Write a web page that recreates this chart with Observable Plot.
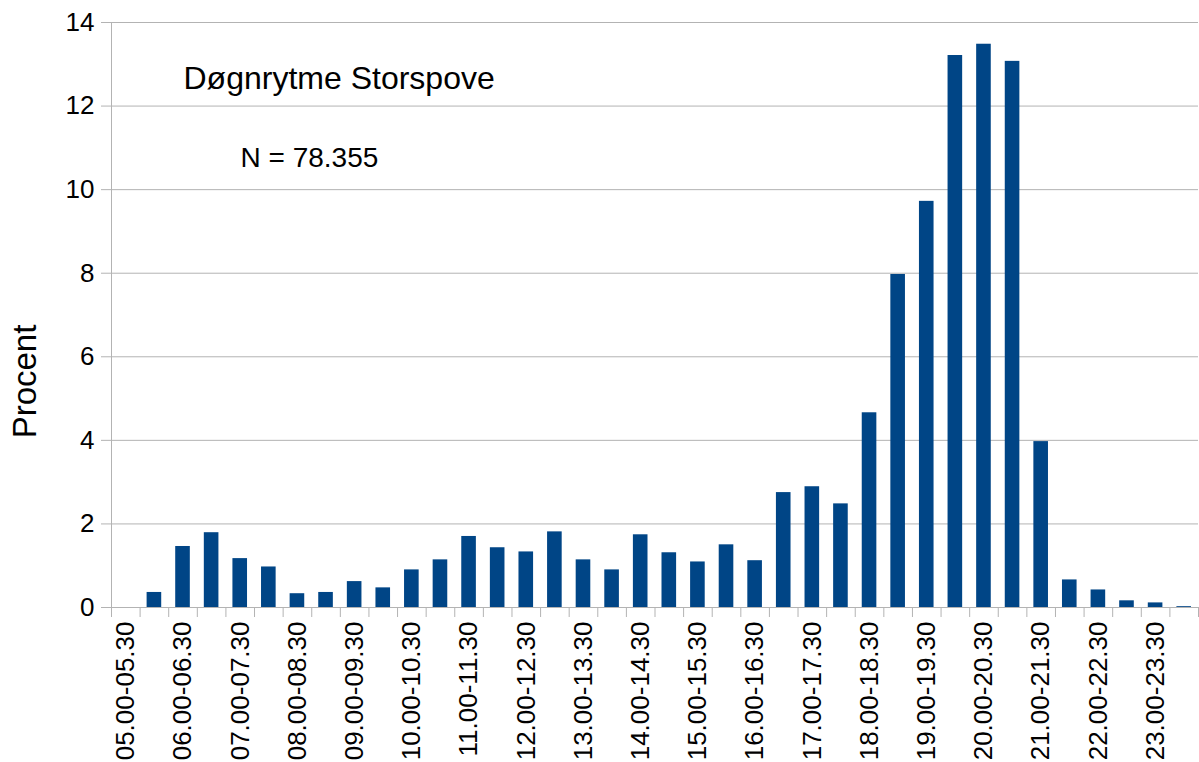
<!DOCTYPE html>
<html>
<head>
<meta charset="utf-8">
<script src="https://cdn.jsdelivr.net/npm/d3@7"></script>
<script src="https://cdn.jsdelivr.net/npm/@observablehq/plot@0.6"></script>
<style>
  html, body { margin: 0; padding: 0; background: #fff; }
  #chart svg { display: block; }
</style>
</head>
<body>
<div id="chart"></div>
<script>
const slots = [
  "05.00-05.30","05.30-06.00","06.00-06.30","06.30-07.00","07.00-07.30","07.30-08.00",
  "08.00-08.30","08.30-09.00","09.00-09.30","09.30-10.00","10.00-10.30","10.30-11.00",
  "11.00-11.30","11.30-12.00","12.00-12.30","12.30-13.00","13.00-13.30","13.30-14.00",
  "14.00-14.30","14.30-15.00","15.00-15.30","15.30-16.00","16.00-16.30","16.30-17.00",
  "17.00-17.30","17.30-18.00","18.00-18.30","18.30-19.00","19.00-19.30","19.30-20.00",
  "20.00-20.30","20.30-21.00","21.00-21.30","21.30-22.00","22.00-22.30","22.30-23.00",
  "23.00-23.30","23.30-24.00"
];
const procent = [
  0, 0.36, 1.46, 1.79, 1.17, 0.97,
  0.33, 0.36, 0.62, 0.47, 0.90, 1.14,
  1.70, 1.43, 1.33, 1.81, 1.14, 0.90,
  1.74, 1.31, 1.09, 1.50, 1.12, 2.75,
  2.89, 2.48, 4.66, 7.97, 9.72, 13.21,
  13.48, 13.07, 3.97, 0.66, 0.42, 0.16,
  0.11, 0.02
];
const labelledSlots = [
  "05.00-05.30","06.00-06.30","07.00-07.30","08.00-08.30","09.00-09.30","10.00-10.30",
  "11.00-11.30","12.00-12.30","13.00-13.30","14.00-14.30","15.00-15.30","16.00-16.30",
  "17.00-17.30","18.00-18.30","19.00-19.30","20.00-20.30","21.00-21.30","22.00-22.30",
  "23.00-23.30"
];
const yTicks = [0, 2, 4, 6, 8, 10, 12, 14];
const title = "Døgnrytme Storspove";
const subtitle = "N = 78.355";
const yLabel = "Procent";

const data = slots.map((s, i) => ({slot: s, i, v: procent[i]}));
const boundaries = d3.range(0, slots.length + 1);
const labelPositions = labelledSlots.map(s => slots.indexOf(s) + 0.5);

const gray = "#b3b3b3";
const font = "'Liberation Sans', Arial, sans-serif";

const chart = Plot.plot({
  width: 1199,
  height: 762,
  marginLeft: 111,
  marginRight: 1,
  marginTop: 22,
  marginBottom: 155,
  style: {fontFamily: font, background: "#fff", color: "#000"},
  x: {type: "linear", domain: [0, slots.length], label: null},
  y: {domain: [0, 14], label: null},
  marks: [
    Plot.gridY(yTicks, {stroke: gray, strokeOpacity: 1, strokeWidth: 1}),
    Plot.ruleX([0], {stroke: gray}),
    Plot.ruleY([0], {stroke: gray}),
    Plot.rectY(data, {x1: "i", x2: d => d.i + 1, y: "v", insetLeft: 7, insetRight: 7, fill: "#004586"}),
    Plot.axisX(boundaries, {tickSize: 10, tickFormat: () => "", stroke: gray, strokeOpacity: 1}),
    Plot.axisX(labelPositions, {
      tickSize: 0, tickPadding: 14, tickRotate: -90,
      tickFormat: p => slots[Math.floor(p)], fontSize: 26, fill: "#000"
    }),
    Plot.axisY(yTicks, {tickSize: 10, tickPadding: 7, fontSize: 26, stroke: gray, strokeOpacity: 1, fill: "#000"}),
    Plot.text([title], {frameAnchor: "top-left", dx: 72, dy: 66, textAnchor: "start", lineAnchor: "bottom", fontSize: 32, fill: "#000"}),
    Plot.text([subtitle], {frameAnchor: "top-left", dx: 129, dy: 144, textAnchor: "start", lineAnchor: "bottom", fontSize: 28, fill: "#000"}),
    Plot.text([yLabel], {frameAnchor: "left", dx: -86, dy: 66.5, rotate: -90, textAnchor: "middle", lineAnchor: "middle", fontSize: 33, fill: "#000"})
  ]
});
document.getElementById("chart").appendChild(chart);
</script>
</body>
</html>
